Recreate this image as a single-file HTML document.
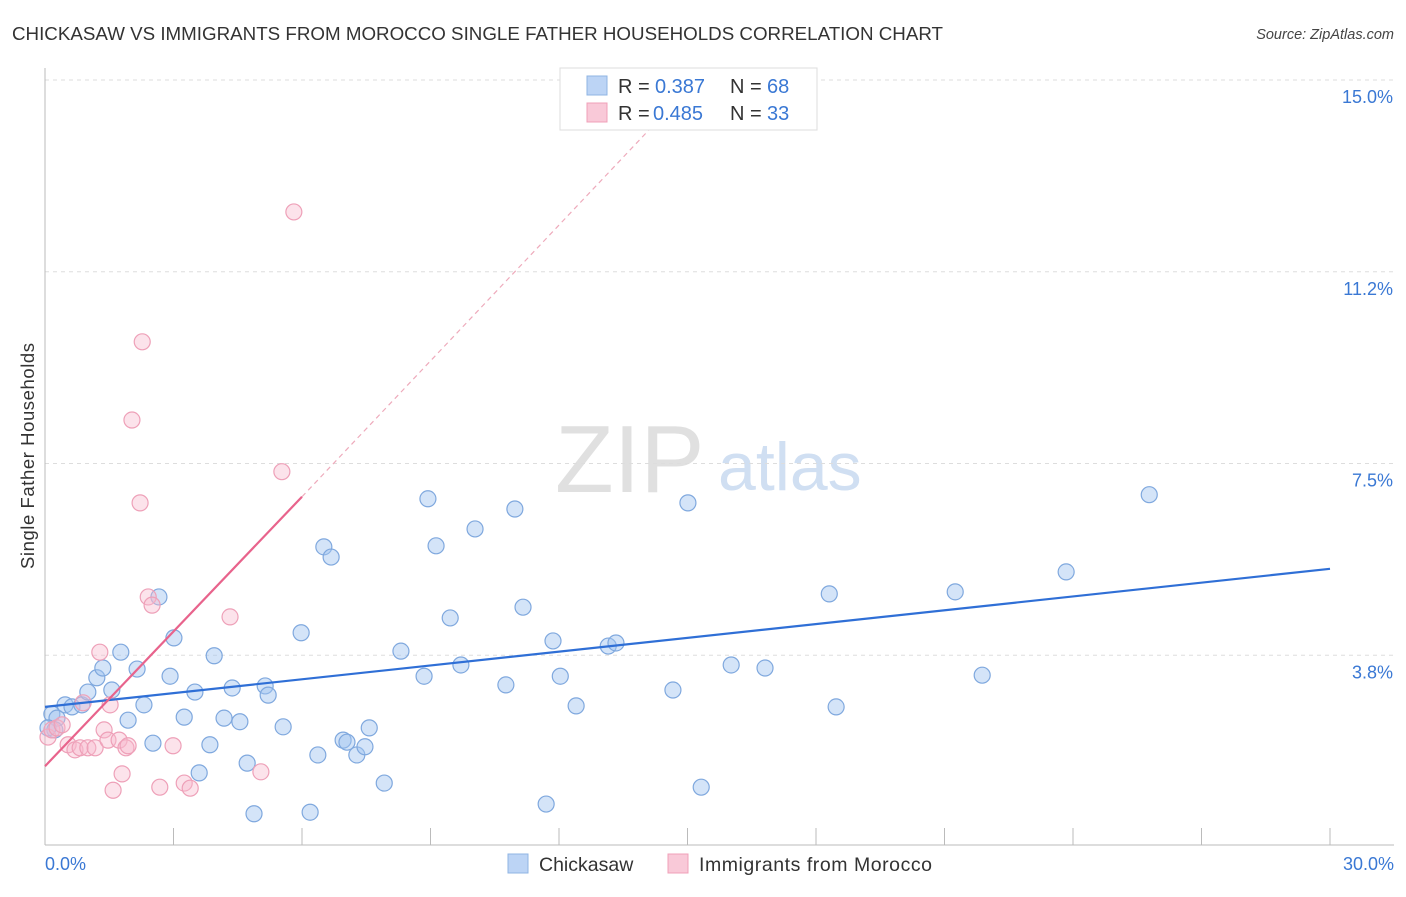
<!DOCTYPE html>
<html><head><meta charset="utf-8"><style>
body{margin:0;background:#fff;font-family:"Liberation Sans",sans-serif}
svg text{font-family:"Liberation Sans",sans-serif}
</style></head><body>
<svg id="chart" width="1406" height="892">
<text x="12" y="40" font-size="18" fill="#333" textLength="931" lengthAdjust="spacingAndGlyphs">CHICKASAW VS IMMIGRANTS FROM MOROCCO SINGLE FATHER HOUSEHOLDS CORRELATION CHART</text>
<text x="1394" y="39" font-size="14.5" fill="#444" font-style="italic" text-anchor="end">Source: ZipAtlas.com</text>
<g>
<text x="555" y="492" font-size="96" fill="#e0e0e0" font-family="Liberation Serif">ZIP</text>
<text x="718" y="490" font-size="68" fill="#d0dff2">atlas</text>
</g>
<g id="grid"></g>
<g id="axes"></g>
<g id="marks"></g>
<text transform="translate(34,456) rotate(-90)" font-size="18.5" fill="#333" text-anchor="middle" textLength="226">Single Father Households</text>
<g>
<rect x="560" y="68" width="257" height="62" fill="#fff" stroke="#ddd"/>
<rect x="587" y="76" width="20" height="19" fill="#bcd4f5" stroke="#8fb4e3"/>
<rect x="587" y="103" width="20" height="19" fill="#f9c9d8" stroke="#f0a0b8"/>
<text x="618" y="93" font-size="20" fill="#333">R = <tspan x="655" fill="#3a78d4">0.387</tspan></text>
<text x="730" y="93" font-size="20" fill="#333">N = <tspan x="767" fill="#3a78d4">68</tspan></text>
<text x="618" y="120" font-size="20" fill="#333">R = <tspan x="653" fill="#3a78d4">0.485</tspan></text>
<text x="730" y="120" font-size="20" fill="#333">N = <tspan x="767" fill="#3a78d4">33</tspan></text>
</g>
<g>
<rect x="508" y="854" width="20" height="19" fill="#bcd4f5" stroke="#8fb4e3"/>
<text x="539" y="871" font-size="19.5" fill="#333">Chickasaw</text>
<rect x="668" y="854" width="20" height="19" fill="#f9c9d8" stroke="#f0a0b8"/>
<text x="699" y="871" font-size="19.5" fill="#333" textLength="233">Immigrants from Morocco</text>
</g>
</svg>
<script>
const xTicks=[0,3,6,9,12,15,18,21,24,27,30];
const yTickVals=[3.75,7.5,11.25,15];
const yTickLabels=["3.8%","7.5%","11.2%","15.0%"];
const xEndLabels=["0.0%","30.0%"];
const blueX=[0.16,0.28,0.47,0.63,0.86,1.00,1.21,1.35,1.56,1.77,1.94,2.15,2.31,2.52,2.66,2.92,3.01,3.25,3.50,3.60,3.85,3.95,4.18,4.37,4.55,4.72,4.88,5.14,5.21,5.56,5.98,6.19,6.37,6.51,6.68,6.96,7.05,7.28,7.47,7.57,7.92,8.31,8.85,8.94,9.13,9.46,9.71,10.04,10.76,10.97,11.16,11.70,11.86,12.03,12.40,13.15,13.33,14.66,15.01,15.32,16.02,16.81,18.31,18.47,21.25,21.88,23.84,25.78,0.23,0.07];
const blueY=[2.60,2.52,2.78,2.74,2.78,3.03,3.31,3.50,3.07,3.81,2.48,3.48,2.78,2.03,4.89,3.34,4.09,2.54,3.03,1.45,2.00,3.74,2.52,3.11,2.45,1.64,0.65,3.15,2.97,2.35,4.19,0.68,1.80,5.87,5.67,2.09,2.05,1.80,1.96,2.33,1.25,3.83,3.34,6.81,5.89,4.48,3.56,6.22,3.17,6.61,4.69,0.84,4.03,3.34,2.76,3.93,3.99,3.07,6.73,1.17,3.56,3.50,4.95,2.74,4.99,3.36,5.38,6.89,2.29,2.33];
const pinkX=[0.07,0.16,0.28,0.40,0.54,0.70,0.82,1.00,1.17,1.28,1.38,1.47,1.59,1.73,1.80,1.89,1.94,2.03,2.22,2.27,2.41,2.50,2.68,2.99,3.25,3.39,4.32,5.04,5.53,5.81,1.52,0.89];
const pinkY=[2.15,2.29,2.33,2.39,2.00,1.90,1.94,1.94,1.94,3.81,2.29,2.09,1.11,2.09,1.43,1.94,1.98,8.35,6.73,9.88,4.89,4.73,1.17,1.98,1.25,1.15,4.50,1.47,7.34,12.42,2.78,2.82];
const blueTrend=[[0,2.74],[30,5.44]];
const pinkTrend=[[0,1.58],[6.0,6.85]];
const pinkTrendExt=[[6.0,6.85],[14.3,14.2]];

const X0=45,X1=1330,YB=847,YT=80;
const sx=v=>X0+(X1-X0)*v/30;
const sy=v=>YB-(YB-YT)*v/15;
const NS="http://www.w3.org/2000/svg";
function mk(parent,tag,attrs){const e=document.createElementNS(NS,tag);for(const k in attrs)e.setAttribute(k,attrs[k]);document.getElementById(parent).appendChild(e);return e;}

yTickVals.forEach((v,i)=>{
  const l=mk('grid','line',{x1:X0,x2:1394,y1:sy(v),y2:sy(v),stroke:'#ddd','stroke-dasharray':'4,4'});
  
  
  const t=mk('grid','text',{x:1393,y:sy(v)+23,'font-size':18,fill:'#3a78d4','text-anchor':'end'});
  t.textContent=yTickLabels[i];
  
  
});
let a=mk('axes','line',{x1:X0,x2:X0,y1:68,y2:845,stroke:'#bbb'});


a=mk('axes','line',{x1:X0,x2:1394,y1:845,y2:845,stroke:'#bbb'});


xTicks.forEach(v=>{
  const t=mk('axes','line',{x1:sx(v),x2:sx(v),y1:828,y2:845,stroke:'#bbb'});
  
  
});
let t=mk('axes','text',{x:45,y:870,'font-size':18,fill:'#3a78d4'});t.textContent=xEndLabels[0];


t=mk('axes','text',{x:1394,y:870,'font-size':18,fill:'#3a78d4','text-anchor':'end'});t.textContent=xEndLabels[1];



blueX.forEach((v,i)=>{
  const c=mk('marks','circle',{cx:sx(v),cy:sy(blueY[i]),r:8,fill:'rgba(160,195,240,0.45)',stroke:'#7fa8de','stroke-width':1.2});
  
  
});
pinkX.forEach((v,i)=>{
  const c=mk('marks','circle',{cx:sx(v),cy:sy(pinkY[i]),r:8,fill:'rgba(248,185,205,0.4)',stroke:'#eea0b8','stroke-width':1.2});
  
  
});
let l=mk('marks','line',{x1:sx(blueTrend[0][0]),y1:sy(blueTrend[0][1]),x2:sx(blueTrend[1][0]),y2:sy(blueTrend[1][1]),stroke:'#2f6fd6','stroke-width':2.2});


l=mk('marks','line',{x1:sx(pinkTrend[0][0]),y1:sy(pinkTrend[0][1]),x2:sx(pinkTrend[1][0]),y2:sy(pinkTrend[1][1]),stroke:'#e8638c','stroke-width':2.2});


l=mk('marks','line',{x1:sx(pinkTrendExt[0][0]),y1:sy(pinkTrendExt[0][1]),x2:sx(pinkTrendExt[1][0]),y2:sy(pinkTrendExt[1][1]),stroke:'#eeaabb','stroke-width':1.2,'stroke-dasharray':'5,4'});


</script>
</body></html>
